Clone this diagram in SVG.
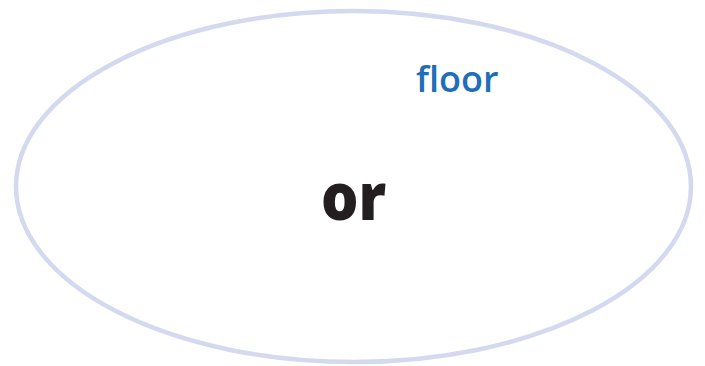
<svg xmlns="http://www.w3.org/2000/svg" width="705" height="366" viewBox="0 0 705 366">
<style>
.frame{fill:#fff;stroke:#d3d9ee;stroke-width:4.5}
.lbl{font-family:"Open Sans","Noto Sans",sans-serif;font-weight:600;font-size:36px;fill:#1f6fb8}
.big{font-family:"Open Sans","Noto Sans",sans-serif;font-weight:800;font-size:62px;fill:#231f20}
</style>
<rect width="705" height="366" fill="#fff"/>
<g id="frame"><ellipse class="frame" cx="353.5" cy="186.5" rx="337.5" ry="175.5"/></g>
<g id="floor"><text class="lbl" x="416" y="92">floor</text></g>
<g id="or"><text class="big" x="321" y="220" transform="translate(321 220) scale(0.95 1.05) translate(-321 -220)">or</text></g>
<g id="connectors"/>
</svg>
